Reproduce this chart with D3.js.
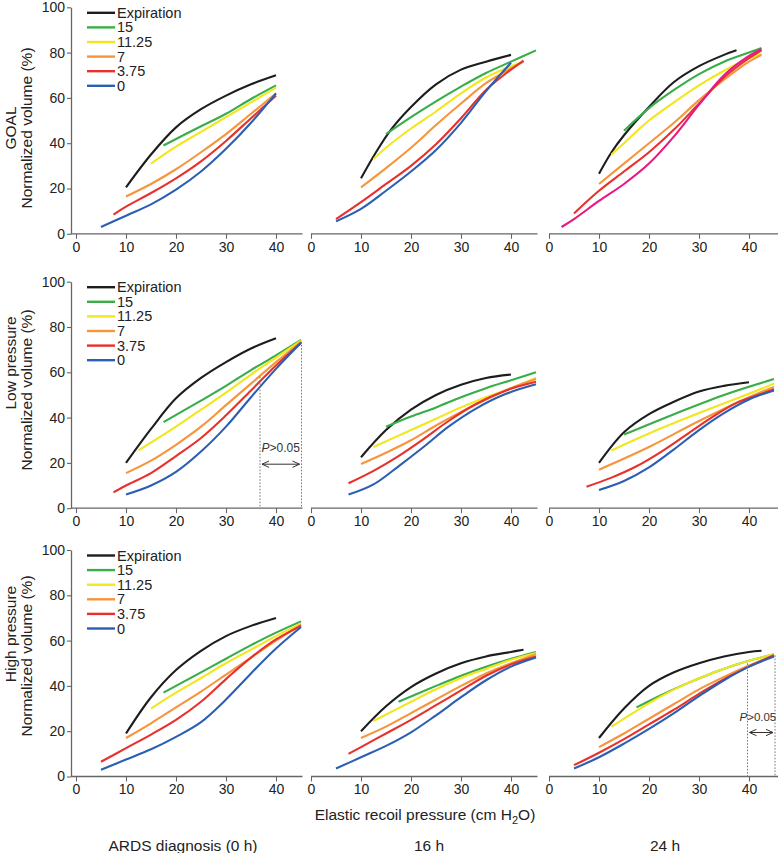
<!DOCTYPE html>
<html>
<head>
<meta charset="utf-8">
<script src="https://cdn.jsdelivr.net/npm/d3@7"></script>
<style>
  html, body { margin: 0; padding: 0; background: #fff; }
  svg { display: block; font-family: "Liberation Sans", Arial, Helvetica, sans-serif; }
</style>
</head>
<body>
<svg id="chart" width="780" height="853"></svg>
<script>
// ---------------- DATA ----------------
const xTickVals = [0, 10, 20, 30, 40];
const yTickVals = [0, 20, 40, 60, 80, 100];
const seriesNames = ["Expiration", "15", "11.25", "7", "3.75", "0"];
const seriesColors = ["#1d1d1d", "#38ad48", "#f2e61c", "#f6953b", "#e8302c", "#2b5fb4"];
const seriesColorsGoal24h = ["#1d1d1d", "#38ad48", "#f2e61c", "#f6953b", "#e8302c", "#e61a82"];
const rowLabels = ["GOAL", "Low pressure", "High pressure"];
const colLabels = ["ARDS diagnosis (0 h)", "16 h", "24 h"];
const yAxisTitle = "Normalized volume (%)";
const pLabel = ">0.05";

// each panel: [Expiration, 15, 11.25, 7, 3.75, 0] as [pressure, volume] points
const goal_0h = [
  [[10,20.5],[15,35],[20,47],[25,55],[30,61],[35,66],[40,70]],
  [[17.5,39],[25,47.5],[30,53],[35,59.5],[40,65.5]],
  [[15,31],[20,38.5],[25,45],[30,51.5],[35,58],[40,64.5]],
  [[10,16.5],[15,22],[20,28.5],[25,36],[30,44],[35,53],[40,62]],
  [[7.5,8.5],[10,12],[15,18],[20,24.5],[25,32],[30,41],[35,51],[40,61]],
  [[5,3],[10,8],[15,13],[20,19.5],[25,27.5],[30,37.5],[35,49],[40,62]]
];
const goal_16h = [
  [[10,24.5],[13,36],[16,46],[20,56],[25,66],[30,72.5],[35,76],[40,79]],
  [[15,44],[20,51.5],[25,58.5],[30,65],[35,71],[40,76],[45,81]],
  [[12.5,33],[15,38],[20,46.5],[25,54],[30,62],[35,69],[40,74],[42.5,76]],
  [[10,20.5],[15,29],[20,38],[25,48],[30,57.5],[35,66.5],[40,73],[42.5,76]],
  [[5,6.5],[10,14],[15,22],[20,30],[25,39.5],[30,51],[35,63.5],[40,72.5],[42.5,76.5]],
  [[5,5.5],[10,11],[15,19],[20,27.5],[25,37],[30,49],[35,63],[40,75.5]]
];
const goal_24h = [
  [[10,26.5],[12.5,36],[15,43.5],[20,56],[25,67],[30,74],[35,79],[37.5,81]],
  [[15,45.5],[20,55.5],[25,63.5],[30,70.5],[35,76],[40,80],[42.5,82]],
  [[12.5,35],[15,40],[20,50],[25,58],[30,65.5],[35,72],[40,77.5],[42.5,79.5]],
  [[10,22],[15,31],[20,40],[25,49],[30,59],[35,68],[40,76],[42.5,79]],
  [[5,9],[10,19],[15,27.5],[20,36],[25,46],[30,57.5],[35,69],[40,77.5],[42.5,81]],
  [[2.5,3],[5,6.5],[10,14.5],[15,22],[20,31],[25,43],[30,57],[35,70],[40,78.5],[42.5,81.5]]
];
const low_0h = [
  [[10,20],[15,35],[20,48.5],[25,57.5],[30,64.5],[35,70.5],[40,75]],
  [[17.5,38],[25,47.5],[30,54],[35,61],[40,67.5],[45,74.3]],
  [[12.5,25.5],[20,36],[25,43.5],[30,51],[35,59],[40,66.5],[45,74]],
  [[10,15.5],[15,21],[20,28],[25,36],[30,45.5],[35,55],[40,64.5],[45,73.5]],
  [[7.5,7],[10,10],[15,15.5],[20,23],[25,31],[30,41],[35,52],[40,63],[45,73]],
  [[10,6],[15,10],[20,16],[25,25],[30,36],[35,49],[40,61.5],[45,73]]
];
const low_16h = [
  [[10,22.5],[15,34.5],[20,43.5],[25,50],[30,54.5],[35,57.5],[40,59]],
  [[15,36],[20,40.5],[25,44.5],[30,49],[35,53],[40,56.5],[45,60]],
  [[12.5,27],[20,34.5],[25,39.5],[30,44.5],[35,49],[40,53],[45,57.5]],
  [[10,19.5],[15,24.5],[20,30],[25,36.5],[30,42.5],[35,48],[40,53],[45,57]],
  [[7.5,11],[12.5,16.5],[17.5,23],[22.5,30.5],[27.5,38.5],[33,46],[39,52],[45,55.8]],
  [[7.5,6],[12.5,10.5],[17.5,18.5],[22.5,27],[27.5,36],[33,44],[39,50.5],[45,54.7]]
];
const low_24h = [
  [[10,20],[15,33.5],[20,41.5],[25,47],[30,51.5],[35,54],[40,55.6]],
  [[15,32.5],[25,41.5],[35,50],[45,57]],
  [[12.5,25.5],[20,33],[30,42],[40,50.5],[45,55]],
  [[10,17],[20,27],[30,38.5],[40,49],[45,53.5]],
  [[7.5,9.5],[12.5,13.5],[17.5,18.5],[22.5,25],[27.5,32.5],[32.5,40],[37.5,46.5],[42.5,50.5],[45,52.5]],
  [[10,8],[15,12],[20,18],[25,26],[30,34.5],[35,42],[40,48],[45,52]]
];
const high_0h = [
  [[10,19],[15,35],[20,47],[25,55.5],[30,62],[35,66.5],[40,70]],
  [[17.5,37],[25,46],[30,52],[35,58],[40,63.5],[45,68.5]],
  [[15,30],[20,37],[25,43.5],[30,50],[35,56],[40,62],[45,67.5]],
  [[10,17],[15,23.5],[20,30.5],[25,37.5],[30,45],[35,52.5],[40,60],[45,67]],
  [[5,6.5],[10,12.5],[15,18.5],[20,25],[25,33],[30,43],[35,52.5],[40,60.5],[45,66.5]],
  [[5,3],[10,7.5],[15,12],[20,17.5],[25,24],[30,34],[35,45.5],[40,56.5],[45,66]]
];
const high_16h = [
  [[10,20],[15,31],[20,39.5],[25,45.5],[30,50],[35,53],[40,55],[42.5,56]],
  [[17.5,33],[25,40],[30,44.5],[35,48.5],[40,52],[45,55]],
  [[12.5,24.5],[20,33],[25,38.5],[30,43.5],[35,47.5],[40,51.5],[45,54.5]],
  [[10,17],[15,22],[20,28],[25,34],[30,40],[35,45.5],[40,50],[45,54]],
  [[7.5,10],[10,13],[15,19],[20,25],[25,31.5],[30,38],[35,44.5],[40,49.5],[45,53]],
  [[5,3.5],[10,8.5],[15,13.5],[20,19.5],[25,27],[30,35],[35,42.5],[40,48.5],[45,52.5]]
];
const high_24h = [
  [[10,17],[15,30],[20,40],[25,46],[30,50],[35,53],[40,55],[42.5,55.5]],
  [[17.5,30.5],[22.5,36],[27.5,41],[32.5,45.5],[37.5,49.5],[45,54]],
  [[12.5,22],[17.5,29],[22.5,35.5],[27.5,41],[32.5,45.5],[37.5,49.5],[45,54]],
  [[10,13],[15,19],[20,25.5],[25,32],[30,38.5],[35,44],[40,49],[45,53.5]],
  [[5,5],[10,10.5],[15,16.5],[20,23],[25,29.5],[30,36.5],[35,43],[40,48.5],[45,53.5]],
  [[5,3.5],[10,8.5],[15,14.5],[20,21],[25,28],[30,35.5],[35,42.5],[40,48.5],[45,53]]
];
// P>0.05 annotation: [left x, left top y, right x, right top y]
const pAnnotLow0h = [36.8, 58, 45.1, 73.5];
const pAnnotHigh24h = [39.7, 50, 45.2, 53.5];

// ---------------- LAYOUT ----------------
const svg = d3.select("#chart");
const colX0 = [76, 311, 549];
const rowTop = [7.3, 281.7, 550];
const plotH = 226.5;
const xSpan = 45;
const plotW = 225;
const axisColor = "#666";
const textColor = "#222";

const panels = [
  [goal_0h, goal_16h, goal_24h],
  [low_0h, low_16h, low_24h],
  [high_0h, high_16h, high_24h]
];

const defs = svg.append("defs");
["start", "end"].forEach(k => {
  defs.append("marker")
    .attr("id", "arr-" + k)
    .attr("viewBox", "0 0 8 8")
    .attr("refX", 7.5).attr("refY", 4)
    .attr("markerWidth", 8).attr("markerHeight", 8)
    .attr("markerUnits", "userSpaceOnUse")
    .attr("orient", k === "end" ? "auto" : "auto-start-reverse")
    .append("path")
    .attr("d", "M0.5,0.8 L7.5,4 L0.5,7.2")
    .attr("fill", "none").attr("stroke", "#333").attr("stroke-width", 1);
});

const line = d3.line().curve(d3.curveCatmullRom.alpha(0.5));

panels.forEach((rowPanels, r) => {
  const y = d3.scaleLinear().domain([0, 100]).range([rowTop[r] + plotH, rowTop[r]]);
  rowPanels.forEach((panel, c) => {
    const x = d3.scaleLinear().domain([0, xSpan]).range([colX0[c], colX0[c] + plotW]);
    const g = svg.append("g");

    // x axis
    const xAxis = d3.axisBottom(x).tickValues(xTickVals).tickSize(5).tickPadding(3).tickSizeOuter(0);
    const xg = g.append("g").attr("transform", `translate(0,${y(0)})`).call(xAxis);
    xg.select(".domain").remove();
    xg.append("line")
      .attr("x1", c === 0 ? x(0) - 5 : x(0)).attr("x2", x(c === 2 ? 45.8 : 45.3))
      .attr("y1", 0).attr("y2", 0)
      .attr("stroke", axisColor).attr("stroke-width", 1.3);
    xg.selectAll(".tick line").attr("stroke", axisColor).attr("stroke-width", 1.1);
    xg.selectAll(".tick text").attr("fill", textColor).style("font-size", "14px")
      .style("font-family", "'Liberation Sans', Arial, sans-serif");

    // y axis (left column only)
    if (c === 0) {
      const yAxis = d3.axisLeft(y).tickValues(yTickVals).tickSize(4).tickPadding(2).tickSizeOuter(0);
      const yg = g.append("g").attr("transform", `translate(${x(0) - 5},0)`).call(yAxis);
      yg.select(".domain").attr("stroke", axisColor).attr("stroke-width", 1.3);
      yg.selectAll(".tick line").attr("stroke", axisColor).attr("stroke-width", 1.1);
      yg.selectAll(".tick text").attr("fill", textColor).style("font-size", "14px")
        .style("font-family", "'Liberation Sans', Arial, sans-serif");
    }

    // curves
    const colors = (r === 0 && c === 2) ? seriesColorsGoal24h : seriesColors;
    panel.forEach((pts, i) => {
      g.append("path")
        .attr("d", line(pts.map(p => [x(p[0]), y(p[1])])))
        .attr("fill", "none")
        .attr("stroke", colors[i])
        .attr("stroke-width", 2.1)
        .attr("stroke-linecap", "butt");
    });

    // legend
    if (c === 0) {
      const lg = g.append("g");
      seriesNames.forEach((name, i) => {
        const ly = rowTop[r] + 5.5 + i * 14.6;
        lg.append("line").attr("x1", 87).attr("x2", 115).attr("y1", ly).attr("y2", ly)
          .attr("stroke", seriesColors[i]).attr("stroke-width", 2.4);
        lg.append("text").attr("x", 117).attr("y", ly).attr("dy", "0.35em")
          .attr("fill", textColor).style("font-size", "14.5px").text(name);
      });
    }

    // annotation
    let ann = null;
    if (r === 1 && c === 0) ann = pAnnotLow0h;
    if (r === 2 && c === 2) ann = pAnnotHigh24h;
    if (ann) {
      const [ax1, ay1, ax2, ay2] = ann;
      [[ax1, ay1], [ax2, ay2]].forEach(([ax, ay]) => {
        g.append("line").attr("x1", x(ax)).attr("x2", x(ax)).attr("y1", y(ay)).attr("y2", y(0))
          .attr("stroke", "#777").attr("stroke-width", 1).attr("stroke-dasharray", "1.6,1.6");
      });
      const ty = y(0) - 56;
      const tx = (r === 2) ? x(ax1) - 8 : x(ax1) + 1.5;
      const t = g.append("text").attr("x", tx).attr("y", ty)
        .attr("fill", "#333").style("font-size", (r === 2) ? "11.5px" : "12px");
      t.append("tspan").attr("font-style", "italic").text("P");
      t.append("tspan").text(pLabel);
      g.append("line")
        .attr("x1", x(ax1) + 2).attr("x2", x(ax2) - 2)
        .attr("y1", ty + 12).attr("y2", ty + 12)
        .attr("stroke", "#333").attr("stroke-width", 1)
        .attr("marker-start", "url(#arr-start)").attr("marker-end", "url(#arr-end)");
    }
  });

  // row labels
  const labelCenters = [[128, 128], [363, 390], [634, 656]];
  svg.append("text")
    .attr("transform", `translate(16,${labelCenters[r][0]}) rotate(-90)`)
    .attr("text-anchor", "middle").attr("fill", textColor).style("font-size", "15.5px")
    .text(rowLabels[r]);
  svg.append("text")
    .attr("transform", `translate(32,${labelCenters[r][1]}) rotate(-90)`)
    .attr("text-anchor", "middle").attr("fill", textColor).style("font-size", "15.5px")
    .text(yAxisTitle);
});

// x title
const xt = svg.append("text").attr("x", 425).attr("y", 820).attr("text-anchor", "middle")
  .attr("fill", textColor).style("font-size", "15.5px");
xt.append("tspan").text("Elastic recoil pressure (cm H");
xt.append("tspan").attr("dy", 4).style("font-size", "11px").text("2");
xt.append("tspan").attr("dy", -4).text("O)");

// column labels
const colCenters = [183, 429, 665];
colLabels.forEach((lab, i) => {
  svg.append("text").attr("x", colCenters[i]).attr("y", 851).attr("text-anchor", "middle")
    .attr("fill", textColor).style("font-size", "15.5px").text(lab);
});
</script>
</body>
</html>
